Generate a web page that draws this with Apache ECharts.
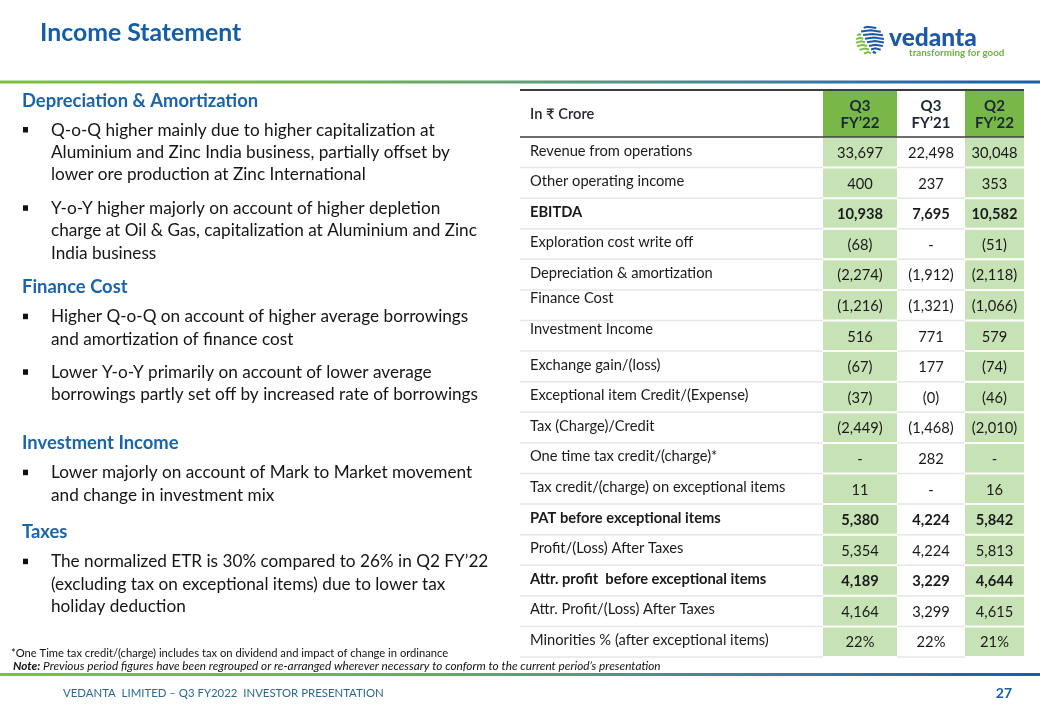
<!DOCTYPE html>
<html>
<head>
<meta charset="utf-8">
<script src="https://cdn.jsdelivr.net/npm/echarts/dist/echarts.min.js"></script>
<style>
html,body{margin:0;padding:0;background:#fff;}
#chart{width:1040px;height:720px;}
</style>
</head>
<body>
<div id="chart"></div>
<script>
// ---------------- DATA ----------------
const pageTitle = 'Income Statement';
const unitLabel = 'In ₹ Crore';
const columnHeaders = ['Q3\nFY’22', 'Q3\nFY’21', 'Q2\nFY’22'];
const rowLabels = [
  'Revenue from operations',
  'Other operating income',
  'EBITDA',
  'Exploration cost write off',
  'Depreciation & amortization',
  'Finance Cost',
  'Investment Income',
  'Exchange gain/(loss)',
  'Exceptional item Credit/(Expense)',
  'Tax (Charge)/Credit',
  'One time tax credit/(charge)*',
  'Tax credit/(charge) on exceptional items',
  'PAT before exceptional items',
  'Profit/(Loss) After Taxes',
  'Attr. profit  before exceptional items',
  'Attr. Profit/(Loss) After Taxes',
  'Minorities % (after exceptional items)'
];
const q3fy22 = ['33,697','400','10,938','(68)','(2,274)','(1,216)','516','(67)','(37)','(2,449)','-','11','5,380','5,354','4,189','4,164','22%'];
const q3fy21 = ['22,498','237','7,695','-','(1,912)','(1,321)','771','177','(0)','(1,468)','282','-','4,224','4,224','3,229','3,299','22%'];
const q2fy22 = ['30,048','353','10,582','(51)','(2,118)','(1,066)','579','(74)','(46)','(2,010)','-','16','5,842','5,813','4,644','4,615','21%'];
const boldRows = ['EBITDA', 'PAT before exceptional items', 'Attr. profit  before exceptional items'];

const commentary = [
  { heading: 'Depreciation & Amortization', bullets: [
    ['Q-o-Q higher mainly due to higher capitalization at', 'Aluminium and Zinc India business, partially offset by', 'lower ore production at Zinc International'],
    ['Y-o-Y higher majorly on account of higher depletion', 'charge at Oil & Gas, capitalization at Aluminium and Zinc', 'India business']
  ]},
  { heading: 'Finance Cost', bullets: [
    ['Higher Q-o-Q on account of higher average borrowings', 'and amortization of finance cost'],
    ['Lower Y-o-Y primarily on account of lower average', 'borrowings partly set off by increased rate of borrowings']
  ]},
  { heading: 'Investment Income', bullets: [
    ['Lower majorly on account of Mark to Market movement', 'and change in investment mix']
  ]},
  { heading: 'Taxes', bullets: [
    ['The normalized ETR is 30% compared to 26% in Q2 FY’22', '(excluding tax on exceptional items) due to lower tax', 'holiday deduction']
  ]}
];
const footnoteText = '*One Time tax credit/(charge) includes tax on dividend and impact of change in ordinance';
const noteLabel = 'Note:';
const noteText = ' Previous period figures have been regrouped or re-arranged wherever necessary to conform to the current period’s presentation';
const footerText = 'VEDANTA  LIMITED – Q3 FY2022  INVESTOR PRESENTATION';
const pageNumber = '27';
const logoWord = 'vedanta';
const logoTagline = 'transforming for good';

// ---------------- LAYOUT ----------------
const FONT = 'Lato, "Noto Sans", "DejaVu Sans", sans-serif';
const TABLE_LEFT = 520, TABLE_RIGHT = 1024;
const TABLE_W = TABLE_RIGHT - TABLE_LEFT;
const COL_EDGES = [0, 303, 377, 445, TABLE_W]; // label col + 3 value cols
const HEAD_Y = [101, 286.7, 442.7, 532.3];
const BULLET_Y = [[130, 208.3], [316.7, 372.3], [472.7], [561.7]];
const LINE_H = 22.4;
const LABEL_RAISE = { 'Finance Cost': 5, 'Investment Income': 5 };
const GREEN_DARK = '#78b848';
const GREEN_LIGHT = '#c7e3b5';
const CELL_FONT = 14.7;

const valueColumns = [q3fy22, q3fy21, q2fy22];

function isGreen(c) { return c === 1 || c === 3; }

function renderBody(params, api) {
  const c = api.value(0), r = api.value(1);
  const band = api.size([0, 1])[1];
  const yc = api.coord([0, r])[1];
  const xL = api.coord([COL_EDGES[c], r])[0];
  const xR = api.coord([COL_EDGES[c + 1], r])[0];
  const top = yc - band / 2, bot = yc + band / 2;
  const kids = [];
  if (isGreen(c)) {
    kids.push({ type: 'rect', shape: { x: xL, y: top + 1, width: xR - xL, height: band - 2 }, style: { fill: GREEN_LIGHT } });
  } else {
    kids.push({ type: 'line', shape: { x1: xL, y1: bot, x2: xR, y2: bot }, style: { stroke: '#e6e6e6', lineWidth: 1.5 } });
  }
  const label = rowLabels[r];
  const bold = boldRows.indexOf(label) >= 0;
  if (c === 0) {
    kids.push({ type: 'text', style: {
      text: label, x: xL + 10, y: yc - 1.5 - (LABEL_RAISE[label] || 0),
      align: 'left', verticalAlign: 'middle', fontFamily: FONT, fontSize: CELL_FONT,
      fontWeight: bold ? 'bold' : 'normal', fill: '#1a1a1a' } });
  } else {
    kids.push({ type: 'text', style: {
      text: valueColumns[c - 1][r], x: (xL + xR) / 2, y: yc + 1,
      align: 'center', verticalAlign: 'middle', fontFamily: FONT, fontSize: CELL_FONT,
      fontWeight: bold ? 'bold' : 'normal', fill: '#1a1a1a' } });
  }
  return { type: 'group', children: kids };
}

function renderHeader(params, api) {
  const c = api.value(0);
  const band = api.size([0, 1])[1];
  const yc = api.coord([0, 0])[1];
  const xL = api.coord([COL_EDGES[c], 0])[0];
  const xR = api.coord([COL_EDGES[c + 1], 0])[0];
  const top = yc - band / 2, bot = yc + band / 2;
  const kids = [];
  if (isGreen(c)) {
    kids.push({ type: 'rect', shape: { x: xL, y: top + 1, width: xR - xL, height: band - 1 }, style: { fill: GREEN_DARK } });
  }
  kids.push({ type: 'line', shape: { x1: xL, y1: top, x2: xR, y2: top }, style: { stroke: '#3c3c3c', lineWidth: 2 } });
  kids.push({ type: 'line', shape: { x1: xL, y1: bot, x2: xR, y2: bot }, style: { stroke: '#3c3c3c', lineWidth: 1.5 } });
  if (c === 0) {
    kids.push({ type: 'text', style: { text: unitLabel, x: xL + 10, y: yc + 1, align: 'left', verticalAlign: 'middle',
      fontFamily: FONT, fontSize: CELL_FONT, fontWeight: 600, fill: '#1f2530' } });
  } else {
    kids.push({ type: 'text', style: { text: columnHeaders[c - 1], x: (xL + xR) / 2, y: yc + 1.5, align: 'center', verticalAlign: 'middle',
      fontFamily: FONT, fontSize: 15, fontWeight: 'bold', lineHeight: 16.8, fill: '#1c2634' } });
  }
  return { type: 'group', children: kids };
}

const bodyData = [];
rowLabels.forEach((_, r) => { for (let c = 0; c < 4; c++) bodyData.push([c, r]); });
const headerData = [[0, 0], [1, 0], [2, 0], [3, 0]];

// ---------------- GRAPHIC (slide furniture) ----------------
function gradientLine(y, h) {
  return { type: 'rect', left: 0, top: y, shape: { width: 1040, height: h },
    style: { fill: new echarts.graphic.LinearGradient(0, 0, 1, 0, [
      { offset: 0, color: '#7cc045' }, { offset: 0.3, color: '#74b451' },
      { offset: 0.55, color: '#5c9a7c' }, { offset: 0.78, color: '#3a77a2' }, { offset: 1, color: '#1b5ca8' }]) },
    silent: true };
}

const graphics = [];
graphics.push(gradientLine(80.5, 3));
graphics.push(gradientLine(673, 3));
graphics.push({ type: 'text', x: 40, y: 33, style: { text: pageTitle, fontFamily: FONT, fontSize: 24.8, fontWeight: 'bold', fill: '#135ea6', verticalAlign: 'middle' } });

// logo globe
(function () {
  const cx = 870, cy = 40, R = 14;
  for (let k = 0; k < 8; k++) {
    const y = cy - 12.5 + k * 3.6;
    const dy = y - cy;
    const hw = Math.sqrt(Math.max(0, R * R - dy * dy));
    const split = cx - 5 + dy * 0.55;
    const x0 = cx - hw, x1 = cx + hw;
    if (split - 1 > x0) graphics.push({ type: 'polyline', shape: { points: [[x0, y + 0.8], [(x0 + split) / 2, y - 0.6], [split - 1, y + 0.4]] }, style: { stroke: '#7cc143', lineWidth: 2, fill: null } });
    if (x1 > split + 1) graphics.push({ type: 'polyline', shape: { points: [[Math.max(x0, split + 1), y + 0.4], [(split + x1) / 2, y - 0.8], [x1, y + 0.6]] }, style: { stroke: '#1d59a6', lineWidth: 2, fill: null } });
  }
})();
graphics.push({ type: 'text', x: 889, y: 38.5, style: { text: logoWord, fontFamily: FONT, fontSize: 24.5, fontWeight: 900, fill: '#1d59a6', verticalAlign: 'middle' } });
graphics.push({ type: 'text', x: 909, y: 52.5, style: { text: logoTagline, fontFamily: FONT, fontSize: 9.8, fontWeight: 'bold', fill: '#6db340', verticalAlign: 'middle' } });

// commentary
commentary.forEach((blk, i) => {
  graphics.push({ type: 'text', x: 22, y: HEAD_Y[i], style: { text: blk.heading, fontFamily: FONT, fontSize: 18.4, fontWeight: 'bold', fill: '#1a64ad', verticalAlign: 'middle' } });
  blk.bullets.forEach((lines, j) => {
    const y0 = BULLET_Y[i][j];
    graphics.push({ type: 'rect', shape: { x: 23, y: y0 - 3, width: 5, height: 5.5 }, style: { fill: '#111' } });
    lines.forEach((ln, k) => {
      graphics.push({ type: 'text', x: 51, y: y0 + k * LINE_H, style: { text: ln, fontFamily: FONT, fontSize: 17.2, fill: '#151515', verticalAlign: 'middle' } });
    });
  });
});

// footnotes & footer
graphics.push({ type: 'text', x: 11, y: 653.5, style: { text: footnoteText, fontFamily: FONT, fontSize: 11.2, fill: '#111', verticalAlign: 'middle' } });
graphics.push({ type: 'text', x: 13, y: 666.5, style: {
  text: '{b|' + noteLabel + '}{i|' + noteText + '}', verticalAlign: 'middle',
  rich: { b: { fontFamily: FONT, fontSize: 11.8, fontWeight: 'bold', fontStyle: 'italic', fill: '#111' },
          i: { fontFamily: FONT, fontSize: 11.8, fontStyle: 'italic', fill: '#111' } } } });
graphics.push({ type: 'text', x: 63, y: 693.5, style: { text: footerText, fontFamily: FONT, fontSize: 11.4, fill: '#2a6a8e', verticalAlign: 'middle' } });
graphics.push({ type: 'text', x: 1012, y: 693, style: { text: pageNumber, fontFamily: FONT, fontSize: 14, fontWeight: 'bold', fill: '#1b5ea8', align: 'right', verticalAlign: 'middle' } });

// ---------------- CHART ----------------
const chart = echarts.init(document.getElementById('chart'), null, { renderer: 'canvas' });
chart.setOption({
  animation: false,
  backgroundColor: '#ffffff',
  grid: [
    { left: TABLE_LEFT, right: 1040 - TABLE_RIGHT, top: 137, bottom: 63 },
    { left: TABLE_LEFT, right: 1040 - TABLE_RIGHT, top: 90, height: 47 }
  ],
  xAxis: [
    { gridIndex: 0, type: 'value', min: 0, max: TABLE_W, show: false },
    { gridIndex: 1, type: 'value', min: 0, max: TABLE_W, show: false }
  ],
  yAxis: [
    { gridIndex: 0, type: 'category', data: rowLabels, inverse: true, show: false },
    { gridIndex: 1, type: 'category', data: ['header'], show: false }
  ],
  series: [
    { type: 'custom', name: 'body', xAxisIndex: 0, yAxisIndex: 0, data: bodyData, encode: { x: 0, y: 1 }, renderItem: renderBody, clip: false, silent: true },
    { type: 'custom', name: 'header', xAxisIndex: 1, yAxisIndex: 1, data: headerData, encode: { x: 0, y: 1 }, renderItem: renderHeader, clip: false, silent: true }
  ],
  graphic: graphics
});
</script>
</body>
</html>
